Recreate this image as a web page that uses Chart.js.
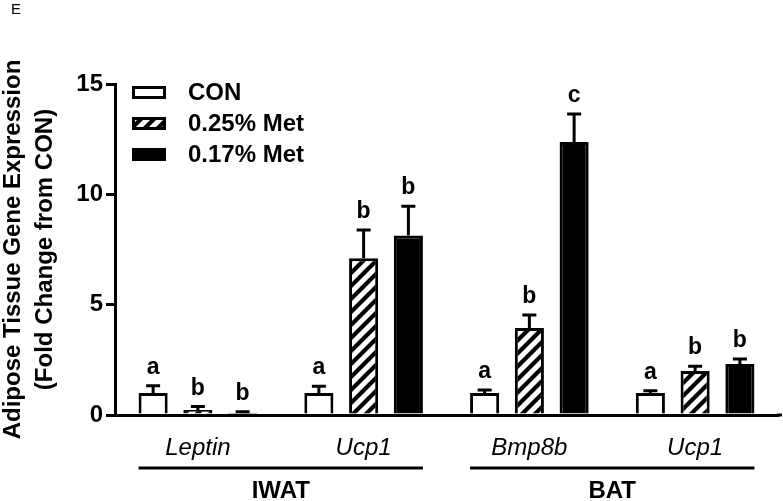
<!DOCTYPE html>
<html><head><meta charset="utf-8">
<script src="https://cdn.jsdelivr.net/npm/chart.js@4.4.0/dist/chart.umd.min.js"></script>
<style>html,body{margin:0;padding:0;background:#fff;} canvas{display:block;}</style>
</head><body>
<canvas id="c" width="783" height="501"></canvas>
<script>
// ---- data ----
const categories = ['Leptin', 'Ucp1', 'Bmp8b', 'Ucp1'];
const seriesNames = ['CON', '0.25% Met', '0.17% Met'];
const conValues = [1.0, 1.0, 1.0, 1.0];
const met025Values = [0.23, 7.1, 3.94, 1.99];
const met017Values = [0.10, 8.13, 12.37, 2.31];
const conErrors = [0.32, 0.3, 0.13, 0.1];
const met025Errors = [0.15, 1.28, 0.59, 0.22];
const met017Errors = [0.05, 1.33, 1.27, 0.23];
const conLetters = ['a', 'a', 'a', 'a'];
const met025Letters = ['b', 'b', 'b', 'b'];
const met017Letters = ['b', 'b', 'c', 'b'];
const tissueNames = ['IWAT', 'BAT'];
const tissueFirst = [0, 2];
const tissueLast = [1, 3];
const yTitleLines = ['Adipose Tissue Gene Expression', '(Fold Change from CON)'];
const panelLabel = 'E';

const FONT = "'Liberation Sans', Arial, Helvetica, sans-serif";
Chart.defaults.font.family = FONT;
Chart.defaults.color = '#000';

function makeHatch() {
  const s = 13;
  const c = document.createElement('canvas');
  c.width = s; c.height = s;
  const g = c.getContext('2d');
  g.fillStyle = '#fff'; g.fillRect(0, 0, s, s);
  g.strokeStyle = '#000'; g.lineWidth = 4.2;
  g.beginPath();
  g.moveTo(-2, s + 2); g.lineTo(s + 2, -2);
  g.moveTo(-s / 2 - 2, s / 2 + 2); g.lineTo(s / 2 + 2, -s / 2 - 2);
  g.moveTo(s / 2 - 2, 1.5 * s + 2); g.lineTo(1.5 * s + 2, s / 2 - 2);
  g.stroke();
  return g.createPattern(c, 'repeat');
}
const hatch = makeHatch();

const valuesAll = [conValues, met025Values, met017Values];
const errorsAll = [conErrors, met025Errors, met017Errors];
const lettersAll = [conLetters, met025Letters, met017Letters];
const fills = ['#ffffff', hatch, '#000000'];

const extrasPlugin = {
  id: 'extras',
  afterDatasetsDraw(chart) {
    const ctx = chart.ctx;
    const y = chart.scales.y;
    ctx.save();
    ctx.strokeStyle = '#000';
    ctx.fillStyle = '#000';
    ctx.lineWidth = 3;
    ctx.font = 'bold 23px ' + FONT;
    ctx.textAlign = 'center';
    ctx.textBaseline = 'alphabetic';
    for (let d = 0; d < 3; d++) {
      const meta = chart.getDatasetMeta(d);
      meta.data.forEach((bar, i) => {
        const x = bar.x;
        const yTop = y.getPixelForValue(valuesAll[d][i]);
        const yErr = y.getPixelForValue(valuesAll[d][i] + errorsAll[d][i]);
        ctx.beginPath();
        ctx.moveTo(x, yTop);
        ctx.lineTo(x, yErr);
        ctx.moveTo(x - 7, yErr);
        ctx.lineTo(x + 7, yErr);
        ctx.stroke();
        ctx.fillText(lettersAll[d][i], x, yErr - 12);
      });
    }
    ctx.restore();
  },
  afterDraw(chart) {
    const ctx = chart.ctx;
    const xs = chart.scales.x;
    ctx.save();
    ctx.fillStyle = '#000';
    ctx.strokeStyle = '#000';
    // extend x axis line slightly past the plot, as in the original
    ctx.lineWidth = 3;
    ctx.beginPath();
    ctx.moveTo(chart.chartArea.right - 1, xs.top);
    ctx.lineTo(chart.width - 1, xs.top);
    ctx.stroke();
    // group lines and labels
    const m0 = chart.getDatasetMeta(0), m2 = chart.getDatasetMeta(2);
    ctx.font = 'bold 24px ' + FONT;
    ctx.textAlign = 'center';
    ctx.textBaseline = 'middle';
    tissueNames.forEach((name, k) => {
      const b0 = m0.data[tissueFirst[k]], b1 = m2.data[tissueLast[k]];
      const x0 = b0.x - b0.width / 2, x1 = b1.x + b1.width / 2;
      const ly = xs.top + 53;
      ctx.beginPath();
      ctx.moveTo(x0, ly); ctx.lineTo(x1, ly); ctx.stroke();
      ctx.fillText(name, (x0 + x1) / 2, ly + 23);
    });
    // legend
    const lx = 132, ly0 = 86, rowH = 31, bw = 34, bh = 13;
    chart.data.datasets.forEach((ds, i) => {
      const top = ly0 + i * rowH;
      ctx.fillStyle = ds.backgroundColor;
      ctx.fillRect(lx, top, bw, bh);
      ctx.lineWidth = 3;
      ctx.strokeStyle = '#000';
      ctx.strokeRect(lx + 1.5, top + 1.5, bw - 3, bh - 3);
      ctx.fillStyle = '#000';
      ctx.textAlign = 'left';
      ctx.font = 'bold 24px ' + FONT;
      ctx.fillText(ds.label, 188, top + bh / 2 + 1);
    });
    // panel label
    ctx.font = '15px ' + FONT;
    ctx.textAlign = 'left';
    ctx.textBaseline = 'alphabetic';
    ctx.fillText(panelLabel, 11, 14);
    ctx.restore();
  }
};

new Chart(document.getElementById('c'), {
  type: 'bar',
  data: {
    labels: categories,
    datasets: seriesNames.map((name, i) => ({
      label: name,
      data: valuesAll[i],
      backgroundColor: fills[i],
      borderColor: '#000',
      borderWidth: 3,
      barPercentage: 0.65,
      categoryPercentage: 0.81
    }))
  },
  options: {
    responsive: false,
    animation: false,
    devicePixelRatio: 1,
    layout: { padding: { top: 84, right: 5, bottom: 0, left: 0 } },
    plugins: { legend: { display: false }, tooltip: { enabled: false } },
    scales: {
      x: {
        grid: { display: false },
        border: { display: true, color: '#000', width: 3 },
        ticks: { color: '#000', font: { size: 24, style: 'italic' }, padding: 11 },
        afterFit(s) { s.height = 86; }
      },
      y: {
        min: 0, max: 15,
        ticks: { stepSize: 5, color: '#000', font: { size: 24, weight: 'bold' }, padding: 3 },
        grid: { display: true, drawOnChartArea: false, drawTicks: true, tickLength: 9, lineWidth: 3, color: '#000' },
        border: { display: true, color: '#000', width: 3 },
        title: {
          display: true,
          text: yTitleLines,
          color: '#000',
          font: { size: 24, weight: 'bold', lineHeight: 1.333 },
          padding: { top: -3, bottom: 0 }
        },
        afterFit(s) { s.width = 115; }
      }
    }
  },
  plugins: [extrasPlugin]
});
</script>
</body></html>
